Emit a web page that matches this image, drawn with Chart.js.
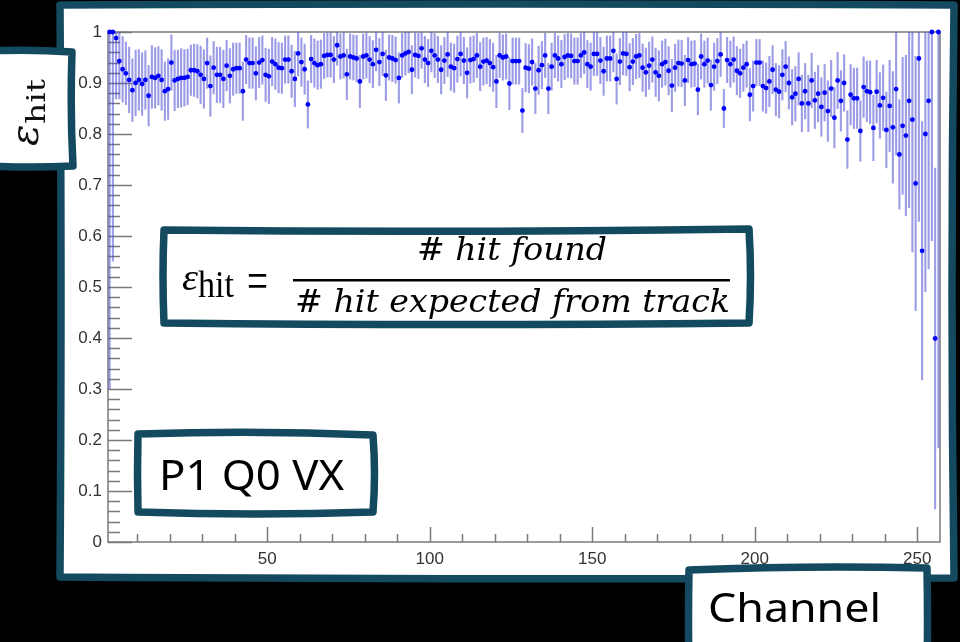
<!DOCTYPE html>
<html>
<head>
<meta charset="utf-8">
<title>Hit efficiency per channel - P1 Q0 VX</title>
<script src="https://cdn.jsdelivr.net/npm/chart.js"></script>
<style>
  html, body { margin: 0; padding: 0; background: #000; }
  #wrap { width: 960px; height: 642px; }
</style>
</head>
<body>
<div id="wrap"><canvas id="effChart" width="960" height="642"></canvas></div>
<script>
// efficiency per channel (bins 1..256)
const eff = [
  1.000, 1.000, 0.988, 0.943, 0.927, 0.919, 0.906, 0.886, 0.900, 0.906, 0.898, 0.906, 0.875, 0.912, 0.910, 0.914,
  0.906, 0.884, 0.888, 0.940, 0.905, 0.908, 0.910, 0.910, 0.912, 0.925, 0.925, 0.923, 0.916, 0.908, 0.939, 0.894,
  0.930, 0.916, 0.916, 0.908, 0.934, 0.914, 0.927, 0.929, 0.929, 0.884, 0.946, 0.939, 0.939, 0.919, 0.940, 0.945,
  0.916, 0.913, 0.942, 0.937, 0.930, 0.929, 0.946, 0.946, 0.923, 0.908, 0.958, 0.941, 0.927, 0.858, 0.947, 0.939,
  0.935, 0.937, 0.953, 0.955, 0.955, 0.946, 0.974, 0.952, 0.954, 0.917, 0.952, 0.950, 0.948, 0.903, 0.952, 0.954,
  0.946, 0.937, 0.965, 0.941, 0.957, 0.915, 0.950, 0.948, 0.945, 0.910, 0.954, 0.958, 0.961, 0.926, 0.955, 0.953,
  0.968, 0.946, 0.939, 0.963, 0.954, 0.946, 0.926, 0.944, 0.956, 0.932, 0.929, 0.947, 0.957, 0.944, 0.920, 0.945,
  0.947, 0.954, 0.932, 0.942, 0.944, 0.939, 0.931, 0.903, 0.954, 0.950, 0.952, 0.899, 0.943, 0.943, 0.943, 0.846,
  0.930, 0.928, 0.941, 0.889, 0.925, 0.935, 0.954, 0.889, 0.932, 0.954, 0.948, 0.937, 0.951, 0.954, 0.953, 0.943,
  0.943, 0.954, 0.960, 0.937, 0.932, 0.957, 0.957, 0.944, 0.923, 0.948, 0.948, 0.963, 0.908, 0.942, 0.958, 0.957,
  0.931, 0.942, 0.952, 0.954, 0.930, 0.921, 0.934, 0.946, 0.921, 0.914, 0.937, 0.941, 0.924, 0.895, 0.930, 0.939,
  0.938, 0.905, 0.945, 0.937, 0.938, 0.887, 0.952, 0.937, 0.944, 0.896, 0.932, 0.943, 0.956, 0.850, 0.945, 0.937,
  0.946, 0.924, 0.919, 0.930, 0.937, 0.877, 0.894, 0.940, 0.940, 0.894, 0.890, 0.903, 0.926, 0.887, 0.883, 0.916,
  0.932, 0.900, 0.872, 0.879, 0.908, 0.860, 0.884, 0.860, 0.905, 0.866, 0.879, 0.853, 0.881, 0.845, 0.889, 0.832,
  0.905, 0.865, 0.900, 0.789, 0.877, 0.870, 0.870, 0.806, 0.892, 0.884, 0.882, 0.812, 0.883, 0.856, 0.871, 0.808,
  0.855, 0.813, 0.888, 0.760, 0.816, 0.797, 0.865, 0.828, 0.703, 0.948, 0.571, 0.800, 0.865, 1.000, 0.399, 1.000
];

// error bar half length per channel (upper end stops at 1)
const effErr = [
  0.700, 0.450, 0.120, 0.075, 0.065, 0.062, 0.065, 0.062, 0.065, 0.060, 0.062, 0.058, 0.060, 0.062, 0.060, 0.058,
  0.060, 0.058, 0.060, 0.055, 0.060, 0.057, 0.058, 0.056, 0.055, 0.050, 0.052, 0.053, 0.057, 0.058, 0.050, 0.060,
  0.052, 0.055, 0.055, 0.057, 0.050, 0.054, 0.052, 0.050, 0.050, 0.058, 0.048, 0.050, 0.050, 0.053, 0.050, 0.048,
  0.053, 0.054, 0.048, 0.050, 0.050, 0.050, 0.047, 0.047, 0.052, 0.055, 0.045, 0.048, 0.050, 0.047, 0.047, 0.048,
  0.048, 0.048, 0.045, 0.044, 0.044, 0.046, 0.040, 0.045, 0.045, 0.050, 0.045, 0.045, 0.046, 0.052, 0.045, 0.045,
  0.046, 0.047, 0.042, 0.047, 0.043, 0.050, 0.045, 0.046, 0.046, 0.050, 0.044, 0.043, 0.042, 0.048, 0.044, 0.045,
  0.040, 0.046, 0.047, 0.042, 0.044, 0.046, 0.048, 0.046, 0.044, 0.047, 0.048, 0.046, 0.044, 0.046, 0.050, 0.046,
  0.046, 0.044, 0.048, 0.047, 0.046, 0.047, 0.048, 0.052, 0.044, 0.045, 0.045, 0.052, 0.046, 0.046, 0.046, 0.044,
  0.048, 0.048, 0.046, 0.050, 0.048, 0.047, 0.044, 0.050, 0.047, 0.044, 0.045, 0.047, 0.045, 0.044, 0.044, 0.046,
  0.046, 0.044, 0.042, 0.047, 0.047, 0.043, 0.043, 0.046, 0.048, 0.045, 0.045, 0.042, 0.050, 0.046, 0.043, 0.043,
  0.047, 0.046, 0.044, 0.044, 0.047, 0.048, 0.047, 0.045, 0.048, 0.050, 0.046, 0.046, 0.048, 0.052, 0.047, 0.046,
  0.046, 0.050, 0.045, 0.046, 0.046, 0.050, 0.045, 0.046, 0.045, 0.050, 0.047, 0.045, 0.044, 0.038, 0.045, 0.046,
  0.045, 0.048, 0.048, 0.047, 0.046, 0.052, 0.050, 0.046, 0.046, 0.050, 0.050, 0.050, 0.048, 0.052, 0.052, 0.050,
  0.050, 0.052, 0.055, 0.054, 0.052, 0.056, 0.055, 0.056, 0.054, 0.056, 0.056, 0.058, 0.056, 0.060, 0.056, 0.060,
  0.056, 0.060, 0.056, 0.057, 0.060, 0.060, 0.060, 0.060, 0.060, 0.060, 0.062, 0.065, 0.062, 0.065, 0.065, 0.075,
  0.090, 0.110, 0.130, 0.108, 0.135, 0.158, 0.210, 0.260, 0.250, 0.320, 0.254, 0.310, 0.330, 0.410, 0.335, 0.816
];

const xTicks = [50, 100, 150, 200, 250];
const yTicks = [0, 0.1, 0.2, 0.3, 0.4, 0.5, 0.6, 0.7, 0.8, 0.9, 1];

const TEAL = '#134a60';
const AXIS = '#7a7a7a';

// bin centres: bin i covers [i+1, i+2]
const points = eff.map((v, i) => ({ x: i + 1.5, y: v }));

function sketchBox(ctx, c, k, fill) {
  ctx.beginPath();
  ctx.moveTo(c[0][0], c[0][1]);
  for (let i = 0; i < 4; i++) {
    const n = c[(i + 1) % 4];
    ctx.quadraticCurveTo(k[i][0], k[i][1], n[0], n[1]);
  }
  ctx.closePath();
  if (fill) { ctx.fillStyle = fill; ctx.fill(); }
  ctx.lineWidth = 7.5;
  ctx.lineJoin = 'round';
  ctx.strokeStyle = TEAL;
  ctx.stroke();
}

function fitText(ctx, str, font, x, y, w) {
  ctx.font = font;
  const m = ctx.measureText(str).width;
  ctx.save();
  ctx.translate(x, y);
  ctx.scale(w / m, 1);
  ctx.fillText(str, 0, 0);
  ctx.restore();
}

const panel = {
  id: 'panel',
  beforeDraw(chart) {
    const ctx = chart.ctx;
    ctx.save();
    ctx.fillStyle = '#000';
    ctx.fillRect(0, 0, chart.width, chart.height);
    sketchBox(ctx,
      [[60, 5], [954, 5], [954, 578], [60, 577]],
      [[500, 3], [950, 290], [480, 580], [62, 300]],
      '#fff');
    ctx.restore();
  }
};

const frame = {
  id: 'frame',
  beforeDatasetsDraw(chart) {
    const { ctx, chartArea: a, scales: { x, y } } = chart;
    ctx.save();
    ctx.strokeStyle = AXIS;
    ctx.lineWidth = 1.5;
    ctx.strokeRect(a.left, a.top, a.width, a.height);
    ctx.beginPath();
    for (let j = 0; j <= 50; j++) {
      const py = Math.round(y.getPixelForValue(j / 50)) + 0.5;
      ctx.moveTo(a.left, py);
      ctx.lineTo(a.left + (j % 5 === 0 ? 24 : 12), py);
    }
    for (let c = 10; c < 257; c += 10) {
      const px = Math.round(x.getPixelForValue(c)) + 0.5;
      ctx.moveTo(px, a.bottom);
      ctx.lineTo(px, a.bottom - (c % 50 === 0 ? 15 : 8));
    }
    ctx.stroke();

    // error bars
    ctx.beginPath();
    ctx.rect(a.left, a.top, a.width, a.height);
    ctx.clip();
    ctx.strokeStyle = 'rgba(75, 75, 210, 0.55)';
    ctx.lineWidth = 2.1;
    points.forEach((p, i) => {
      const px = x.getPixelForValue(p.x);
      const lo = Math.max(0, p.y - effErr[i]);
      const hi = Math.min(1, p.y + effErr[i]);
      ctx.beginPath();
      ctx.moveTo(px, y.getPixelForValue(lo));
      ctx.lineTo(px, y.getPixelForValue(hi));
      ctx.stroke();
    });
    ctx.restore();
  }
};

const labels = {
  id: 'labels',
  afterDraw(chart) {
    const ctx = chart.ctx;
    ctx.save();
    ctx.textAlign = 'left';
    ctx.textBaseline = 'alphabetic';

    // y title box
    sketchBox(ctx,
      [[-10, 51], [72, 52], [73, 166], [-10, 166]],
      [[30, 49], [70, 110], [30, 168], [-10, 110]],
      '#fff');
    ctx.fillStyle = '#111';
    ctx.save();
    ctx.translate(38, 146);
    ctx.rotate(-Math.PI / 2);
    ctx.font = "italic 40px 'DejaVu Serif'";
    ctx.fillText('\u03b5', 0, 0);
    fitText(ctx, 'hit', "26px 'DejaVu Serif'", 22, 7, 45);
    ctx.restore();

    // formula box
    sketchBox(ctx,
      [[164, 230], [749, 229], [749, 323], [164, 323]],
      [[450, 233], [752, 276], [450, 326], [162, 276]],
      '#fff');
    ctx.fillStyle = '#000';
    fitText(ctx, '\u03b5', "italic 38px 'Liberation Serif'", 182, 290, 16);
    fitText(ctx, 'hit', "38px 'Liberation Serif'", 198, 297, 36);
    fitText(ctx, '=', "54px 'Liberation Serif'", 247, 299, 21);
    ctx.fillRect(293, 279, 437, 2.5);
    fitText(ctx, '# hit found', "italic 31px 'DejaVu Serif'", 417, 260, 190);
    fitText(ctx, '# hit expected from track', "italic 31px 'DejaVu Serif'", 295, 312, 435);

    // module label
    sketchBox(ctx,
      [[138, 434], [373, 435], [373, 512], [138, 512]],
      [[255, 430], [376, 474], [255, 516], [137, 474]],
      '#fff');
    ctx.fillStyle = '#000';
    fitText(ctx, 'P1 Q0 VX', "42px 'Noto Sans'", 159, 490, 185);

    // x title box
    sketchBox(ctx,
      [[689, 570], [927, 568], [927, 670], [689, 670]],
      [[810, 565], [928, 620], [810, 670], [688, 620]],
      '#fff');
    ctx.fillStyle = '#000';
    fitText(ctx, 'Channel', "40px 'Noto Sans'", 708, 622, 173);
    ctx.restore();
  }
};

const tickFont = { family: "'Liberation Sans', Arial, sans-serif", size: 17 };

new Chart(document.getElementById('effChart'), {
  type: 'scatter',
  data: {
    datasets: [{
      data: points,
      pointRadius: 2.4,
      pointBackgroundColor: '#0000ff',
      pointBorderWidth: 0,
      showLine: false,
      clip: 6
    }]
  },
  options: {
    responsive: false,
    animation: false,
    events: [],
    layout: { padding: { left: 0, top: 32, right: 20, bottom: 0 } },
    plugins: { legend: { display: false }, tooltip: { enabled: false } },
    scales: {
      x: {
        type: 'linear',
        min: 1,
        max: 257,
        grid: { display: false, drawTicks: false },
        border: { display: false },
        afterBuildTicks: (s) => { s.ticks = xTicks.map(v => ({ value: v })); },
        afterFit: (s) => { s.height = 100; },
        ticks: { color: '#333', font: tickFont, padding: 7, maxRotation: 0, autoSkip: false }
      },
      y: {
        min: 0,
        max: 1,
        grid: { display: false, drawTicks: false },
        border: { display: false },
        afterBuildTicks: (s) => { s.ticks = yTicks.map(v => ({ value: v })); },
        afterFit: (s) => { s.width = 108; },
        ticks: {
          color: '#333',
          font: tickFont,
          padding: 6,
          callback: (v) => (v === 0 || v === 1) ? String(v) : v.toFixed(1)
        }
      }
    }
  },
  plugins: [panel, frame, labels]
});
</script>
</body>
</html>
